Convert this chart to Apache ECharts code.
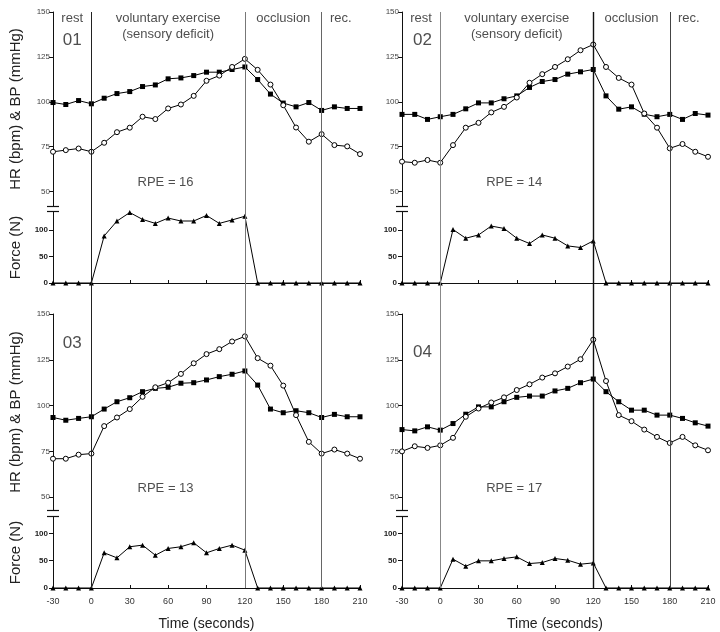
<!DOCTYPE html>
<html><head><meta charset="utf-8">
<script src="https://cdn.jsdelivr.net/npm/echarts@6/dist/echarts.min.js"></script>
<style>html,body{margin:0;padding:0;background:#fff}#c{width:720px;height:632px}</style>
</head><body><div id="c"></div>
<script>
// ---------------- DATA ----------------
const TIME = [-30,-20,-10,0,10,20,30,40,50,60,70,80,90,100,110,120,130,140,150,160,170,180,190,200,210];
const TIME_TICKS = [-30,0,30,60,90,120,150,180,210];
const UP_TICKS = [50,75,100,125,150];
const FORCE_TICKS = [0,50,100];
const PHASE_BOUNDS = [0,120,180];
const PHASE_LABELS = ['rest','voluntary exercise','(sensory deficit)','occlusion','rec.'];
const PANEL_IDS = ['01','02','03','04'];
const RPE = [16,14,13,17];

// filled squares
const MAP_01 = [99.6,98.5,100.7,98.9,102,104.6,105.7,108.5,109.4,112.8,113.3,114.6,116.5,116.5,118,119.4,112.4,104.3,99.3,97.2,99.6,95.2,97.2,96.3,96.3];
// open circles
const HR_01  = [72.2,73.1,74,72.2,77.2,83.1,85.6,91.7,90.4,96.3,98.5,103.3,111.7,114.6,119.4,123.9,117.8,109.6,98.1,85.7,77.8,82,75.9,75.2,70.9];
const FORCE_01 = [0,0,0,0,88.8,116.9,133,120,112.5,122.5,117,117,127.5,112.5,119,126,0,0,0,0,0,0,0,0,0];

const MAP_02 = [93,93,90.2,91.7,93,96.1,99.4,99.4,101.7,103.3,108,111.3,112.4,115.4,116.7,118,103.3,95.9,97.2,93.1,91.7,93,90.2,93.5,92.6];
const HR_02  = [66.7,66.1,67.6,66.1,75.9,85.6,88.3,94.1,97.2,102.4,110.6,115.4,119.4,123.7,128.7,131.9,119.4,113.3,109.6,93.5,85.6,74.1,76.5,72.2,69.4];
const FORCE_02 = [0,0,0,0,101,84.5,90.7,107.5,103,84.5,74.5,90.7,84.5,70,67,79.5,0,0,0,0,0,0,0,0,0];

const MAP_03 = [93.5,92,93,93.9,98.1,102.1,104.3,107.6,109.4,110,112.2,112.5,114,115.8,117.1,118.9,111.2,98.1,96.1,97.2,96.1,93.5,95.2,93.9,93.9];
const HR_03  = [71,71,73.2,73.8,88.8,93.5,98.1,104.8,110,112.5,117.3,123.1,128.1,130.8,135,137.8,125.9,121.8,110.9,94.8,80.2,73.8,76,73.8,71];
const FORCE_03 = [0,0,0,0,64.4,55.2,75.5,78.5,60,72.4,75.5,82.8,64.4,72.4,78.5,69.3,0,0,0,0,0,0,0,0,0];

const MAP_04 = [86.9,86.2,88.4,86.6,90.2,95.3,99.3,99.3,102.1,104.5,105.2,105.2,108,109.4,112.5,114.5,107.6,102.1,97.5,97.5,94.8,94.8,93,90.6,88.8];
const HR_04  = [75,77.8,76.9,78.3,82.4,93.9,98.4,101.7,104.5,108.5,111.6,115.3,117.6,121.3,125.3,136,113.4,94.8,91.5,86.9,82.9,79.6,82.9,78.3,75.6];
const FORCE_04 = [0,0,0,0,52.8,39.9,49.7,49.7,54,57,44.8,46.6,54,50.9,43.6,46,0,0,0,0,0,0,0,0,0];

const MAP = [MAP_01, MAP_02, MAP_03, MAP_04];
const HR = [HR_01, HR_02, HR_03, HR_04];
const FORCE = [FORCE_01, FORCE_02, FORCE_03, FORCE_04];

// ---------------- LAYOUT ----------------
const FONT = '"Liberation Sans", Arial, Helvetica, sans-serif';
const COLS = [{left:53,width:307},{left:402,width:306}];
const ROWS = [
  {upTop:12, upH:194, upMin:42, fTop:212, fH:71, fMax:134},
  {upTop:314, upH:196, upMin:43, fTop:517, fH:71, fMax:130}
];
const PANELS = [{row:0,col:0},{row:0,col:1},{row:1,col:0},{row:1,col:1}];
const PHASE_POS = [[-15,146.5],[60,146.5],[60,137.5],[150,146.5],[195,146.5]];
const ID_POS = [[-15,134.5],[-14,134.5],[-15,134],[-14,129]];
const RPE_POS = [58,55];
const VLINE_STYLE = [
  [{color:'#222',width:1},{color:'#777',width:1},{color:'#666',width:1}],
  [{color:'#888',width:1},{color:'#111',width:1.4},{color:'#444',width:1}]
];

const grid=[], xAxis=[], yAxis=[], series=[], graphic=[];
const pairs = arr => TIME.map((t,i)=>[t, arr[i]]);

PANELS.forEach((pn,p)=>{
  const c = COLS[pn.col], r = ROWS[pn.row];
  const gu = grid.length;
  grid.push({left:c.left, width:c.width, top:r.upTop, height:r.upH});
  grid.push({left:c.left, width:c.width, top:r.fTop, height:r.fH});
  xAxis.push({gridIndex:gu, type:'value', min:-30, max:210, interval:30, show:false});
  xAxis.push({gridIndex:gu+1, type:'value', min:-30, max:210, interval:30,
    axisLine:{show:true,onZero:false,lineStyle:{color:'#111',width:1}},
    axisTick:{show:true,inside:true,length:3,lineStyle:{color:'#111'}},
    axisLabel:{show:pn.row===1, fontSize:9, color:'#333', margin:9, fontFamily:FONT},
    splitLine:{show:false},
    name: pn.row===1 ? 'Time (seconds)' : '', nameLocation:'middle', nameGap:29,
    nameTextStyle:{fontSize:14,color:'#222',fontFamily:FONT}});
  yAxis.push({gridIndex:gu, type:'value', min:r.upMin, max:150,
    axisLine:{show:true,onZero:false,lineStyle:{color:'#111',width:1}},
    axisTick:{show:true,length:4,customValues:UP_TICKS,lineStyle:{color:'#111'}},
    axisLabel:{customValues:UP_TICKS, fontSize:8, color:'#444', margin:3, fontFamily:FONT},
    splitLine:{show:false},
    name: pn.col===0 ? 'HR (bpm) & BP (mmHg)' : '', nameLocation:'middle', nameGap:30,
    nameTextStyle:{fontSize:15,color:'#222',fontFamily:FONT}});
  yAxis.push({gridIndex:gu+1, type:'value', min:0, max:r.fMax,
    axisLine:{show:true,onZero:false,lineStyle:{color:'#111',width:1}},
    axisTick:{show:true,length:4,customValues:FORCE_TICKS,lineStyle:{color:'#111'}},
    axisLabel:{customValues:FORCE_TICKS, fontSize:8, fontWeight:'bold', color:'#222', margin:5, fontFamily:FONT},
    splitLine:{show:false},
    name: pn.col===0 ? 'Force (N)' : '', nameLocation:'middle', nameGap:30,
    nameTextStyle:{fontSize:15,color:'#222',fontFamily:FONT}});

  series.push({type:'line', xAxisIndex:gu, yAxisIndex:gu, data:pairs(MAP[p]), symbol:'rect', symbolSize:5,
    showAllSymbol:true, itemStyle:{color:'#000'}, lineStyle:{color:'#000',width:1}, z:3});
  series.push({type:'line', xAxisIndex:gu, yAxisIndex:gu, data:pairs(HR[p]), symbol:'circle', symbolSize:5,
    showAllSymbol:true, itemStyle:{color:'#fff',borderColor:'#000',borderWidth:1}, lineStyle:{color:'#000',width:1}, z:4});
  series.push({type:'line', xAxisIndex:gu+1, yAxisIndex:gu+1, data:pairs(FORCE[p]), symbol:'triangle', symbolSize:5,
    showAllSymbol:true, clip:false, itemStyle:{color:'#000'}, lineStyle:{color:'#000',width:1}, z:3});

  const ann = [];
  ann.push({value:ID_POS[p], label:{formatter:PANEL_IDS[p], fontSize:17}});
  ann.push({value:RPE_POS, label:{formatter:'RPE = '+RPE[p], fontSize:13}});
  if (pn.row===0) PHASE_LABELS.forEach((txt,k)=>ann.push({value:PHASE_POS[k], label:{formatter:txt, fontSize:13}}));
  series.push({type:'scatter', xAxisIndex:gu, yAxisIndex:gu, symbolSize:0, silent:true, z:5,
    label:{show:true, position:'inside', align:'center', verticalAlign:'middle', color:'#222', fontFamily:FONT},
    data:ann});

  // axis break marks
  [r.upTop + r.upH + 0.5, r.fTop - 0.5].forEach(y=>{
    graphic.push({type:'line', shape:{x1:c.left-6, y1:y, x2:c.left+6, y2:y}, style:{stroke:'#111', lineWidth:1.2}, silent:true});
  });
});

// full-height column grids for phase boundary lines
COLS.forEach((c,ci)=>{
  const gi = grid.length;
  grid.push({left:c.left, width:c.width, top:ROWS[0].upTop, height:ROWS[1].fTop + ROWS[1].fH - ROWS[0].upTop});
  xAxis.push({gridIndex:gi, type:'value', min:-30, max:210, show:false});
  yAxis.push({gridIndex:gi, type:'value', min:0, max:1, show:false});
  series.push({type:'line', xAxisIndex:gi, yAxisIndex:gi, data:[], z:1,
    markLine:{silent:true, symbol:['none','none'], label:{show:false}, animation:false,
      data: PHASE_BOUNDS.map((b,k)=>({xAxis:b, lineStyle:Object.assign({type:'solid'}, VLINE_STYLE[ci][k])}))}});
});

const chart = echarts.init(document.getElementById('c'), null, {renderer:'canvas'});
chart.setOption({animation:false, backgroundColor:'#fff', textStyle:{fontFamily:FONT},
  grid, xAxis, yAxis, series, graphic});
</script></body></html>
